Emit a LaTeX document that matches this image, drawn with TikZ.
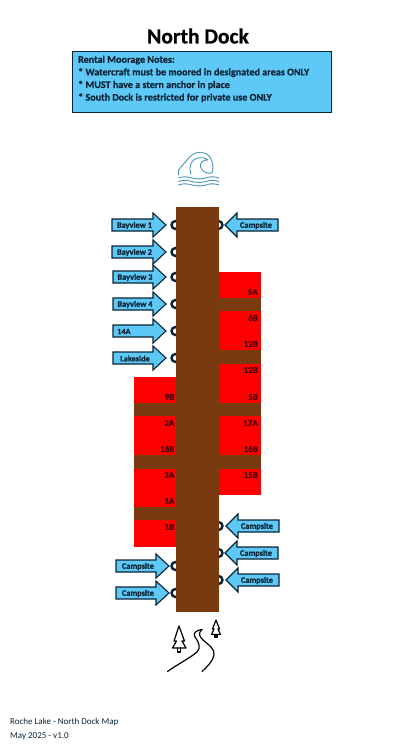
\documentclass[tikz,border=0pt]{standalone}
\usepackage{fontspec}
\setmainfont{Carlito}[BoldFeatures={FakeBold=0.7}]
\definecolor{sky}{HTML}{5EC8F6}
\definecolor{navy}{HTML}{0B2538}
\definecolor{dock}{HTML}{7A3A10}
\definecolor{slip}{HTML}{FF0000}
\definecolor{slipink}{HTML}{4A0006}
\definecolor{wave}{HTML}{4B93BC}
\tikzset{
  notebox/.style={draw=navy,line width=1pt,fill=sky,anchor=north west,minimum width=259pt,minimum height=61pt,inner sep=0pt},
  arrowbody/.style={draw=navy,line width=1.1pt,fill=sky,line join=miter},
  arrowtext/.style={font=\fontsize{8.3}{10}\selectfont\bfseries,text=navy,inner sep=0pt},
  sliptext/.style={font=\fontsize{9}{10}\selectfont\bfseries,text=slipink,inner sep=0pt,anchor=east},
  ring/.style={draw=navy,line width=2.4pt},
  icon/.style={draw=black,line width=1.2pt,line cap=round,line join=round},
}
\newcommand{\leftarw}[5]{% name, left, tip, y, text
  \draw[arrowbody] (#2,#4-6) -- ({#3-13},#4-6) -- ({#3-13},#4-12) -- (#3,#4) -- ({#3-13},#4+12) -- ({#3-13},#4+6) -- (#2,#4+6) -- cycle;
  \node[arrowtext,anchor=center] (#1) at ({(#2+#3-13)/2+2},#4+0.5) {#5};}
\newcommand{\rightarw}[5]{% name, tip, right, y, text
  \draw[arrowbody] (#3,#4-6) -- ({#2+12},#4-6) -- ({#2+12},#4-12) -- (#2,#4) -- ({#2+12},#4+12) -- ({#2+12},#4+6) -- (#3,#4+6) -- cycle;
  \node[arrowtext,anchor=center] (#1) at ({(#3+#2+12)/2-1.5},#4+0.5) {#5};}
\begin{document}
\begin{tikzpicture}[x=1pt,y=-1pt]
\useasboundingbox (0,0) rectangle (401,749);
\fill[white] (0,0) rectangle (401,749);
\node[font=\fontsize{21.5}{24}\selectfont\bfseries,text=black,inner sep=0pt] (title) at (198,36) {North Dock};
\node[notebox] (notes) at (72,51) {};
\node[font=\fontsize{10.1}{12.6}\selectfont\bfseries,text=navy,anchor=north west,align=left,inner sep=0pt] (notestext) at (78,55.5) {Rental Moorage Notes:\\* Watercraft must be moored in designated areas ONLY\\* MUST have a stern anchor in place\\* South Dock is restricted for private use ONLY};
% wave
\draw[wave,line width=.9pt,line join=round,line cap=round]
  (178.5,175) -- (178.5,170) -- (190,156.5) .. controls (196,151) and (205,150.5) .. (210,157)
  .. controls (213,162) and (214,168) .. (212,173) .. controls (207,174) and (202,172) .. (200.5,167)
  .. controls (199.5,163) and (203,159.5) .. (208,160) .. controls (203,155.5) and (193,157) .. (190.5,165)
  .. controls (189.5,169) and (190,171) .. (191,174);
\foreach \yy in {178,181.5,185}
  \draw[wave,line width=.9pt,line cap=round] (178.5,\yy) .. controls (183,\yy-1.6) and (186,\yy-1.6) .. (192,\yy) .. controls (197,\yy+1.2) and (201,\yy+1.2) .. (206,\yy) .. controls (210,\yy-1.6) and (214,\yy-1.6) .. (219,\yy);
% rings
\foreach \yy in {225,252,277,304,331,358,566,593} \draw[ring] (175.5,\yy) circle (4);
\foreach \yy in {225,526,553,580} \draw[ring] (218.5,\yy) circle (4);
% slips
\fill[slip] (218,272) rectangle (261,495);
\fill[slip] (134,377) rectangle (176,547);
\fill[dock] (218,298) rectangle (261,311);
\fill[dock] (218,350) rectangle (261,364);
\fill[dock] (134,403) rectangle (261,416);
\fill[dock] (134,455) rectangle (261,469);
\fill[dock] (134,507) rectangle (176,520);
\fill[dock] (176,207) rectangle (218.7,612);
% slip labels
\foreach \n/\yy/\t in {ra/292/5A,rb/318/6B,rc/344/12B,rd/370/12B,re/397/5B,rf/423/17A,rg/449/16B,rh/475/15B}
  \node[sliptext] (\n) at (258,\yy) {\t};
\foreach \n/\yy/\t in {la/397/9B,lb/423/2A,lc/449/16B,ld/475/3A,le/501/1A,lf/527/1B}
  \node[sliptext] (\n) at (174.5,\yy) {\t};
% arrows
\leftarw{bv1}{112}{166}{225}{Bayview 1}
\leftarw{bv2}{112}{166}{252}{Bayview 2}
\leftarw{bv3}{113}{166}{277}{Bayview 3}
\leftarw{bv4}{113}{166}{304}{Bayview 4}
\draw[arrowbody] (113,325) -- (153,325) -- (153,319) -- (166,331) -- (153,343) -- (153,337) -- (113,337) -- cycle;
\node[arrowtext,anchor=west] (a14) at (117,331.5) {14A};
\leftarw{lake}{113}{166}{358}{Lakeside}
\leftarw{cl1}{116}{169}{566}{Campsite}
\leftarw{cl2}{116}{169}{593}{Campsite}
\rightarw{cr0}{225}{278}{225}{Campsite}
\rightarw{cr1}{226}{279}{526}{Campsite}
\rightarw{cr2}{225}{278}{553}{Campsite}
\rightarw{cr3}{226}{279}{580}{Campsite}
% trees
\draw[icon] (179,626) -- (174,641) -- (176.5,641) -- (172.5,648) -- (186,648) -- (182,641) -- (184.5,641) -- cycle;
\draw[icon] (177.5,648) -- (177.5,652) -- (180.5,652) -- (180.5,648);
\draw[icon] (216,620) -- (212.5,629) -- (214,629) -- (211.5,634.5) -- (220.5,634.5) -- (218,629) -- (219.5,629) -- cycle;
\draw[icon] (215,634.5) -- (215,637.5) -- (217,637.5) -- (217,634.5);
% road
\draw[icon] (167.5,671.5) .. controls (178,664) and (190,658) .. (197,652) .. controls (201,648) and (199,642) .. (195,637) .. controls (192,633) and (197,630) .. (202,629.5);
\draw[icon] (202,629.5) .. controls (198,633) and (199,636) .. (203,640) .. controls (209,645) and (215,649) .. (214,655) .. controls (213,661) and (207,667) .. (202,671.5);
% footer
\node[font=\fontsize{9}{13.2}\selectfont,text=navy,anchor=north west,align=left,inner sep=0pt] (foot) at (10,718.5) {Roche Lake - North Dock Map\\May 2025 - v1.0};
\end{tikzpicture}
\end{document}
